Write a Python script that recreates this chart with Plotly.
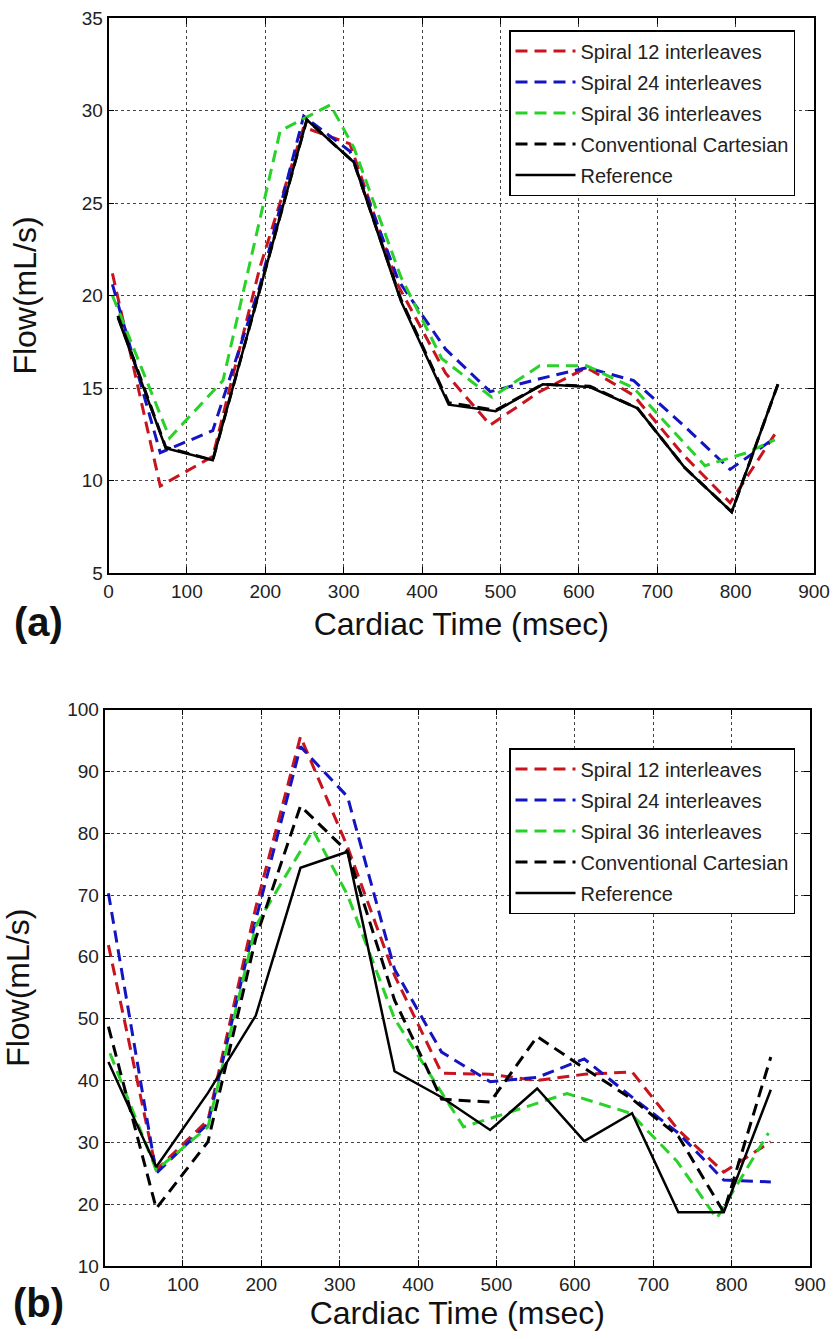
import plotly.graph_objects as go

W, H = 838, 1339

# ---------------- Panel (a) data ----------------
time_a_spiral = [5, 66, 133, 193, 249, 308, 370, 430, 487, 550, 610, 670, 733, 793, 850]
spiral12_a = [21.2, 9.7, 11.3, 21.5, 29.1, 28.2, 20.5, 15.8, 13.0, 14.8, 16.1, 14.6, 11.4, 8.8, 12.5]
spiral24_a = [20.6, 11.5, 12.7, 20.5, 29.7, 27.8, 20.8, 17.1, 14.8, 15.5, 16.1, 15.4, 13.0, 10.6, 12.3]
time_a_s36 = [5, 78, 146, 219, 283, 313, 373, 425, 489, 550, 610, 670, 761, 814, 850]
spiral36_a = [20.0, 12.3, 15.4, 28.9, 30.3, 28.0, 21.0, 16.6, 14.5, 16.2, 16.2, 15.0, 10.8, 11.5, 12.2]
time_a_ref = [12, 73, 133, 193, 253, 313, 373, 434, 494, 554, 614, 675, 735, 795, 854]
cartesian_a = [18.9, 11.8, 11.1, 20.3, 29.5, 27.2, 19.8, 14.2, 13.8, 15.2, 15.1, 13.9, 10.7, 8.3, 15.2]
reference_a = [18.8, 11.75, 11.1, 20.3, 29.5, 27.2, 19.7, 14.1, 13.75, 15.2, 15.05, 13.9, 10.7, 8.3, 15.2]

# ---------------- Panel (b) data ----------------
time_b = [5, 66, 132, 193, 250, 310, 370, 430, 492, 552, 612, 673, 732, 790, 850]
spiral12_b = [61.9, 25.5, 33.6, 68.0, 95.6, 77.8, 57.0, 41.2, 41.0, 40.0, 41.0, 41.4, 32.0, 25.2, 30.1]
spiral24_b = [70.3, 25.0, 33.0, 66.0, 94.0, 85.9, 58.0, 44.6, 39.8, 40.5, 43.5, 37.3, 31.5, 23.9, 23.6]
time_b_s36 = [7, 66, 132, 193, 266, 310, 370, 458, 520, 590, 671, 730, 781, 847]
spiral36_b = [44.4, 25.5, 32.5, 65.0, 80.5, 70.0, 50.0, 32.5, 35.0, 37.9, 34.7, 27.0, 17.7, 31.5]
cartesian_b = [48.7, 19.3, 30.1, 63.0, 84.4, 77.0, 53.0, 37.0, 36.5, 47.1, 42.0, 37.0, 31.0, 18.7, 43.8]
reference_b = [43.0, 26.0, 38.0, 50.5, 74.4, 77.0, 41.5, 37.3, 32.0, 38.7, 30.2, 34.7, 18.7, 18.7, 38.5]

series_names = ["Spiral 12 interleaves", "Spiral 24 interleaves", "Spiral 36 interleaves",
                "Conventional Cartesian", "Reference"]
series_colors = ["#c8141e", "#1414c0", "#28d228", "#000000", "#000000"]
series_dash = ["12px,7px", "12px,7px", "12px,7px", "12px,7px", "solid"]

x_ticks = [0, 100, 200, 300, 400, 500, 600, 700, 800, 900]
x_title = "Cardiac Time (msec)"
y_title = "Flow(mL/s)"

fig = go.Figure()

panel_a = [(time_a_spiral, spiral12_a), (time_a_spiral, spiral24_a), (time_a_s36, spiral36_a),
           (time_a_ref, cartesian_a), (time_a_ref, reference_a)]
panel_b = [(time_b, spiral12_b), (time_b, spiral24_b), (time_b_s36, spiral36_b),
           (time_b, cartesian_b), (time_b, reference_b)]

for panel, (xa, ya, leg, tag) in [(panel_a, ("x", "y", "legend", "a")),
                                 (panel_b, ("x2", "y2", "legend2", "b"))]:
    for i, (xs, ys) in enumerate(panel):
        solid = series_dash[i] == "solid"
        fig.add_trace(go.Scatter(
            x=xs, y=ys, mode="lines", name=series_names[i],
            xaxis=xa, yaxis=ya, legend=leg, legendgroup=f"{tag}{i}",
            line=dict(color=series_colors[i], width=2.5 if solid else 3, dash=series_dash[i]),
        ))

font_family = "Arial, Liberation Sans, sans-serif"
axis_common = dict(
    showline=True, linecolor="black", linewidth=1.5, mirror="ticks",
    ticks="inside", ticklen=6, tickcolor="black", tickwidth=1,
    showgrid=True, gridcolor="#444444", griddash="dot", gridwidth=1,
    zeroline=False, tickfont=dict(family=font_family, size=19, color="#222222"),
    automargin=False,
)

xdom_a = [108.5 / W, 814 / W]
ydom_a = [1 - 573 / H, 1 - 18 / H]
xdom_b = [104.5 / W, 810 / W]
ydom_b = [1 - 1266 / H, 1 - 709.5 / H]

legend_common = dict(xanchor="left", yanchor="top",
                     bordercolor="black", borderwidth=1.5, bgcolor="white",
                     font=dict(family=font_family, size=20, color="#222222"),
                     itemwidth=60, tracegroupgap=2)

fig.update_layout(
    template="none",
    width=W, height=H,
    margin=dict(l=0, r=0, t=0, b=0),
    paper_bgcolor="white", plot_bgcolor="white",
    xaxis=dict(axis_common, domain=xdom_a, anchor="y", range=[0, 900], tickvals=x_ticks,
               title=dict(text=x_title, font=dict(family=font_family, size=32, color="#111111"), standoff=12)),
    yaxis=dict(axis_common, domain=ydom_a, anchor="x", range=[5, 35], dtick=5,
               title=dict(text=y_title, font=dict(family=font_family, size=32, color="#111111"), standoff=36)),
    xaxis2=dict(axis_common, domain=xdom_b, anchor="y2", range=[0, 900], tickvals=x_ticks,
                title=dict(text=x_title, font=dict(family=font_family, size=32, color="#111111"), standoff=8)),
    yaxis2=dict(axis_common, domain=ydom_b, anchor="x2", range=[10, 100], dtick=10,
                title=dict(text=y_title, font=dict(family=font_family, size=32, color="#111111"), standoff=28)),
    legend=dict(legend_common, x=509 / W, y=1 - 30 / H),
    legend2=dict(legend_common, x=509 / W, y=1 - 748 / H),
    showlegend=True,
)

for label, ypix in [("(a)", 622), ("(b)", 1303)]:
    fig.add_annotation(text=f"<b>{label}</b>", xref="paper", yref="paper",
                       x=38 / W, y=1 - ypix / H, xanchor="center", yanchor="middle",
                       showarrow=False, font=dict(family=font_family, size=40, color="#111111"))

fig.write_html("out.html", config={"displayModeBar": False},
               post_script="document.body.style.margin='0px';document.body.style.overflow='hidden';")
